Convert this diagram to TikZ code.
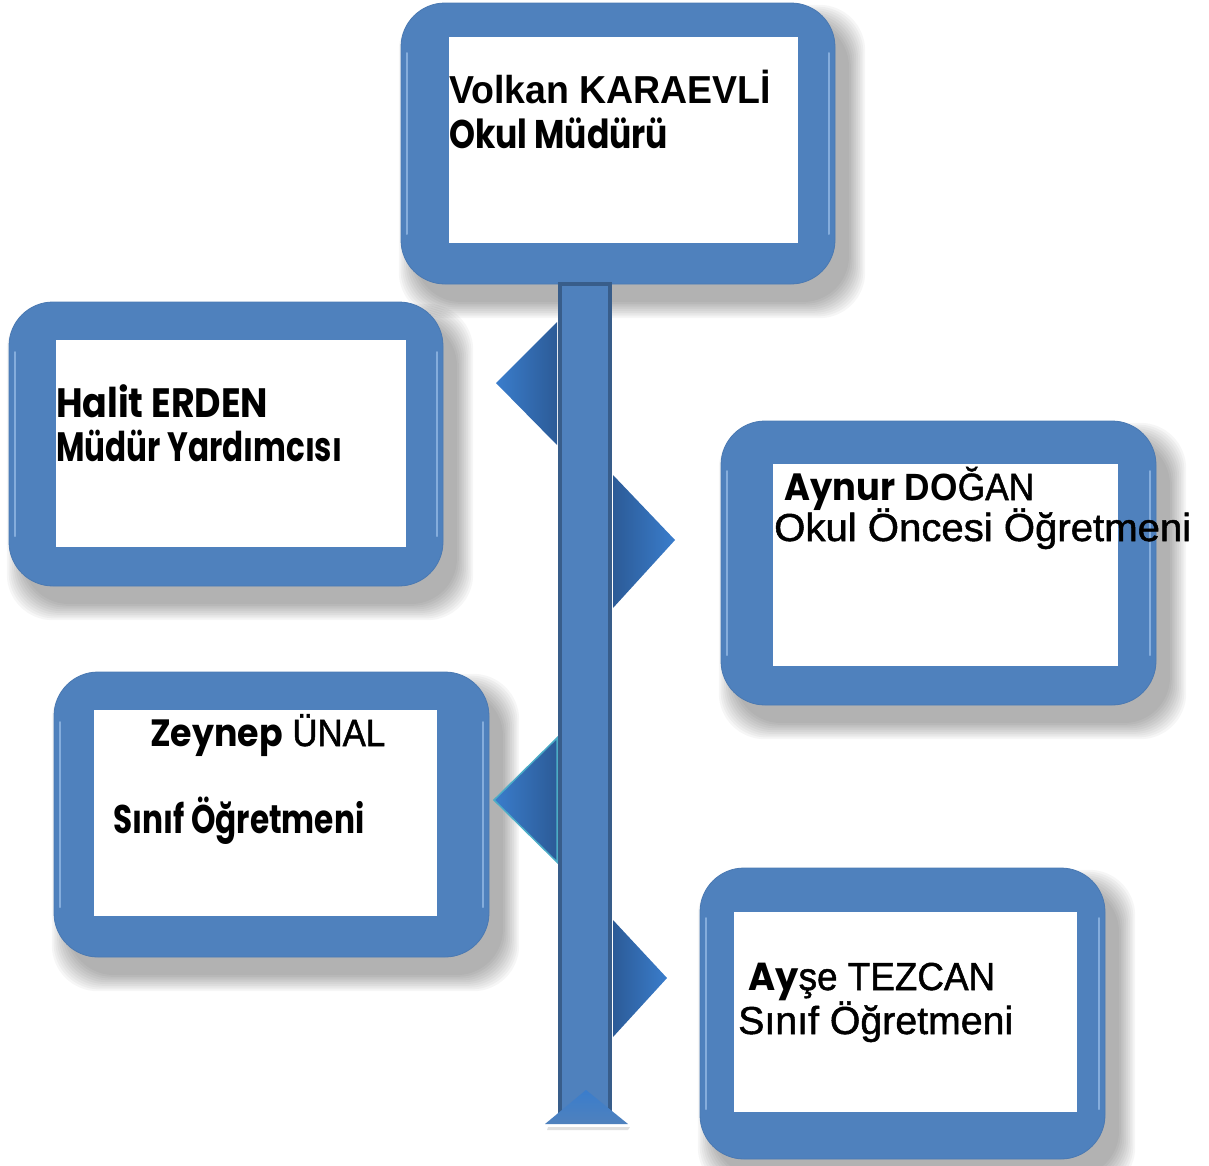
\documentclass[tikz,border=0pt]{standalone}
\usepackage{fontspec}
\usepackage{graphicx}
\setmainfont{Liberation Sans}
\newfontfamily\gfont{Poppins}
\newfontfamily\medfont{Liberation Sans}[FakeBold=1.3]
\definecolor{boxblue}{HTML}{4F81BD}
\definecolor{boxedge}{HTML}{4A79B2}
\definecolor{hilite}{HTML}{A9CBF2}
\definecolor{bardark}{HTML}{385D8A}
\definecolor{triA}{HTML}{3A7DCC}
\definecolor{triB}{HTML}{2C5B97}
\definecolor{tealedge}{HTML}{4BACC6}
\tikzset{
  card/.style={fill=boxblue, draw=boxedge, line width=0.8pt, rounded corners=44pt},
  panel/.style={fill=white, draw=none, inner sep=0pt, anchor=north west},
  lbl/.style={anchor=base west, inner sep=0pt, text=black},
  hl/.style={draw=hilite, line width=2pt, line cap=round, opacity=0.6},
}
\newcommand\shadowcard[4]{%
  \foreach \k in {0,...,9}{%
    \fill[black, opacity=0.035, rounded corners=46pt]
      ({#1+14-\k*1.8},{#2+18-\k*1.8}) rectangle ({#3+14+\k*1.8},{#4+18+\k*1.8});}}
\newcommand\card[9]{% name x1 y1 x2 y2 ix1 iy1 ix2 iy2
  \shadowcard{#2}{#3}{#4}{#5}
  \path[card] (#2,#3) rectangle (#4,#5);
  \draw[hl] ({#2+6},{#3+50}) -- ({#2+6},{#5-50});
  \draw[hl] ({#4-6},{#3+50}) -- ({#4-6},{#5-50});
  \node[panel, minimum width={(#8-#6)*1pt}, minimum height={(#9-#7)*1pt}] (#1) at (#6,#7) {};}
\newcommand\txt[5]{\node[lbl] (#1) at (#2,#3) {\resizebox{#4pt}{\height}{#5}};}
\begin{document}
\begin{tikzpicture}[x=1pt,y=-1pt]
\useasboundingbox (0,0) rectangle (1209,1165);
% cards
\card{p1}{401}{3}{835}{284}{449}{37}{798}{243}
\card{p2}{9}{302}{443}{586}{56}{340}{406}{547}
\card{p3}{721}{421}{1156}{705}{773}{464}{1118}{666}
\card{p4}{54}{672}{489}{957}{94}{710}{437}{916}
\card{p5}{700}{868}{1105}{1159}{734}{912}{1077}{1112}
% timeline bar
\draw[fill=boxblue, draw=bardark, line width=4pt] (560,284) rectangle (610,1119);
\node[inner sep=0pt, minimum width=50pt, minimum height=835pt, anchor=north west] (bar) at (560,284) {};
% side triangles
\shade[left color=triA, right color=triB] (496,383) -- (557,322) -- (557,445) -- cycle;
\shade[left color=triB, right color=triA] (613,475) -- (675,540) -- (613,608) -- cycle;
\shade[left color=triA, right color=triB, draw=tealedge, line width=1.5pt] (494,800) -- (557,738) -- (557,862) -- cycle;
\shade[left color=triB, right color=triA] (613,920) -- (667,978) -- (613,1037) -- cycle;
% bottom arrow head
\fill[black, opacity=0.12] (548,1127) -- (630,1127) -- (628,1130) -- (547,1130) -- cycle;
\shade[top color=triA, bottom color=boxblue] (545,1124) -- (586,1090) -- (628,1124) -- cycle;
% texts
\txt{t1}{449}{103}{322}{\fontsize{39}{44}\selectfont\bfseries Volkan KARAEVLİ}
\txt{t2}{449}{148}{219}{\fontsize{40}{44}\selectfont\gfont\bfseries Okul Müdürü}
\txt{t3}{56}{417}{212}{\fontsize{41}{44}\selectfont\gfont\bfseries Halit ERDEN}
\txt{t4}{56}{461}{286}{\fontsize{41}{44}\selectfont\gfont\bfseries Müdür Yardımcısı}
\txt{t5}{784}{500}{250}{\fontsize{38}{44}\selectfont{\gfont\bfseries Aynur} {\bfseries DO}{\medfont ĞAN}}
\txt{t6}{774}{541}{417}{\fontsize{39}{44}\selectfont\medfont Okul Öncesi Öğretmeni}
\txt{t7}{150}{746}{235}{\fontsize{38}{44}\selectfont{\gfont\bfseries Zeynep} {\medfont ÜNAL}}
\txt{t8}{113}{833}{251}{\fontsize{40}{44}\selectfont\gfont\bfseries Sınıf Öğretmeni}
\txt{t9}{748}{990}{247}{\fontsize{39}{44}\selectfont{\gfont\bfseries Ay}{\medfont şe TEZCAN}}
\txt{t10}{738}{1034}{275}{\fontsize{39}{44}\selectfont\medfont Sınıf Öğretmeni}
\end{tikzpicture}
\end{document}
